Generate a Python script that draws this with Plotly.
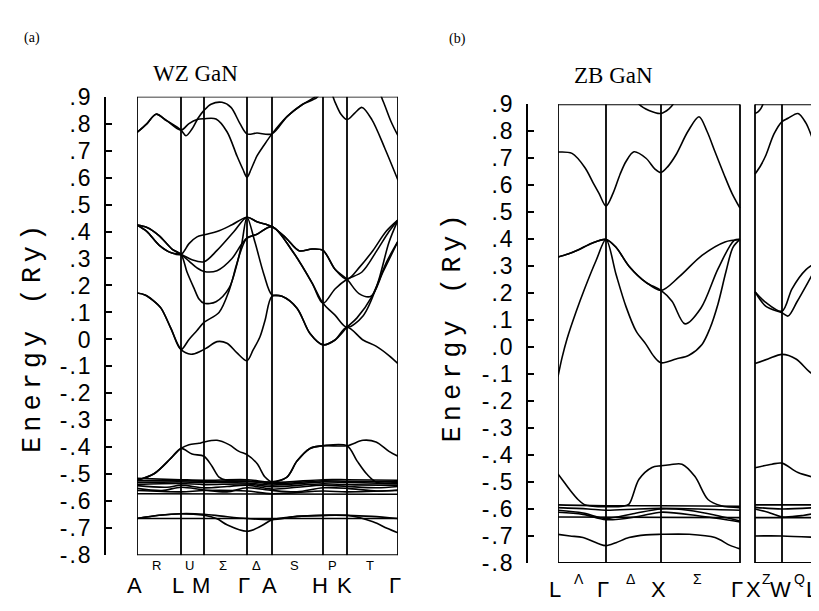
import plotly.graph_objects as go

W, H = 819, 611

# ---------------- Panel (a): wurtzite GaN ----------------
WZ_POINT_LABELS = ["A", "L", "M", "Γ", "A", "H", "K", "Γ"]
WZ_POINT_POS = [0, 44, 67, 110, 135, 186, 210, 261]
WZ_MID_LABELS = ["R", "U", "Σ", "Δ", "S", "P", "T"]

WZ_YTICK_VALS = [0.9, 0.8, 0.7, 0.6, 0.5, 0.4, 0.3, 0.2, 0.1, 0.0,
                 -0.1, -0.2, -0.3, -0.4, -0.5, -0.6, -0.7, -0.8]
WZ_YTICK_TEXT = [".9", ".8", ".7", ".6", ".5", ".4", ".3", ".2", ".1", "0",
                 "-.1", "-.2", "-.3", "-.4", "-.5", "-.6", "-.7", "-.8"]

# bands as (k, E[Ry])
WZ_C1 = [(0, 0.767), (10, 0.80), (19, 0.835), (30, 0.81), (44, 0.776), (49, 0.755),
         (55, 0.78), (61, 0.82), (67, 0.849), (74, 0.872), (85, 0.879), (94, 0.86),
         (103, 0.80), (110, 0.762), (120, 0.765), (135, 0.762), (150, 0.826),
         (165, 0.87), (180, 0.897), (186, 0.93), (192, 0.93), (198, 0.88),
         (204, 0.835), (210, 0.815), (218, 0.84), (225, 0.86), (235, 0.814),
         (248, 0.707), (261, 0.59)]
WZ_C2 = [(0, 0.767), (10, 0.80), (19, 0.835), (30, 0.81), (44, 0.776), (52, 0.80),
         (60, 0.815), (67, 0.818), (79, 0.817), (90, 0.77), (100, 0.68), (106, 0.63),
         (110, 0.601), (114, 0.63), (120, 0.68), (127, 0.72), (135, 0.762),
         (150, 0.826), (165, 0.87), (180, 0.905), (190, 0.96), (210, 1.0),
         (235, 0.97), (246, 0.884), (254, 0.808), (261, 0.755)]

WZ_P1 = [(0, 0.424), (10, 0.40), (22, 0.35), (35, 0.32), (44, 0.315), (52, 0.355),
         (60, 0.38), (67, 0.388), (80, 0.40), (95, 0.425), (110, 0.453), (120, 0.436),
         (135, 0.418), (149, 0.376), (162, 0.329), (175, 0.335), (186, 0.33),
         (198, 0.26), (210, 0.223), (223, 0.27), (236, 0.33), (249, 0.40), (261, 0.443)]
WZ_P2 = [(0, 0.424), (10, 0.40), (22, 0.35), (35, 0.32), (44, 0.315), (55, 0.295),
         (67, 0.288), (80, 0.33), (97, 0.40), (110, 0.453), (120, 0.436), (135, 0.418),
         (149, 0.376), (162, 0.329), (175, 0.335), (186, 0.33), (198, 0.26),
         (210, 0.223), (222, 0.17), (234, 0.16), (246, 0.25), (261, 0.364)]
WZ_P3 = [(0, 0.424), (10, 0.415), (22, 0.385), (35, 0.335), (44, 0.315), (52, 0.29),
         (60, 0.265), (67, 0.252), (80, 0.255), (95, 0.30), (104, 0.35), (110, 0.376),
         (120, 0.39), (135, 0.418), (155, 0.33), (175, 0.21), (186, 0.134),
         (198, 0.187), (210, 0.223), (225, 0.25), (240, 0.33), (252, 0.40), (261, 0.443)]
WZ_P4 = [(0, 0.424), (10, 0.415), (22, 0.385), (35, 0.335), (44, 0.315), (50, 0.25),
         (57, 0.19), (62, 0.15), (67, 0.134), (79, 0.14), (92, 0.19), (100, 0.28),
         (105, 0.36), (110, 0.453), (118, 0.36), (127, 0.24), (135, 0.165),
         (145, 0.16), (160, 0.116), (173, 0.022), (186, -0.02), (198, -0.002),
         (210, 0.045), (226, -0.002), (239, -0.025), (252, -0.06), (261, -0.09)]
WZ_P5 = [(0, 0.172), (8, 0.165), (16, 0.145), (24, 0.116), (34, 0.04), (44, -0.037),
         (52, 0.0), (60, 0.033), (67, 0.063), (82, 0.10), (92, 0.18), (99, 0.27),
         (104, 0.33), (110, 0.376), (120, 0.39), (135, 0.418), (155, 0.33),
         (175, 0.21), (186, 0.134), (198, 0.09), (210, 0.045), (226, 0.087),
         (240, 0.2), (252, 0.36), (261, 0.443)]
WZ_P6 = [(0, 0.172), (8, 0.165), (16, 0.145), (24, 0.116), (34, 0.04), (44, -0.037),
         (54, -0.055), (64, -0.043), (70, -0.031), (80, -0.008), (90, -0.014),
         (100, -0.05), (110, -0.079), (116, -0.04), (123, 0.01), (128, 0.07),
         (135, 0.16), (145, 0.16), (160, 0.116), (173, 0.022), (186, -0.02),
         (198, -0.002), (210, 0.045), (220, 0.08), (235, 0.16), (250, 0.29), (261, 0.364)]

WZ_D1 = [(0, -0.522), (17, -0.498), (34, -0.44), (44, -0.404), (52, -0.39), (62, -0.385),
         (67, -0.38), (80, -0.374), (92, -0.39), (102, -0.415), (110, -0.427),
         (120, -0.46), (128, -0.51), (135, -0.528), (150, -0.51), (160, -0.451),
         (173, -0.404), (186, -0.394), (210, -0.394), (226, -0.374), (239, -0.38),
         (252, -0.415), (261, -0.433)]
WZ_D2 = [(0, -0.522), (17, -0.498), (34, -0.44), (44, -0.404), (55, -0.425),
         (67, -0.433), (75, -0.47), (82, -0.51), (90, -0.522), (110, -0.525),
         (135, -0.528), (150, -0.51), (160, -0.451), (173, -0.404), (186, -0.394),
         (210, -0.394), (220, -0.45), (230, -0.50), (240, -0.53), (261, -0.53)]
WZ_D3 = [(0, -0.515), (44, -0.52), (67, -0.522), (110, -0.52), (135, -0.53),
         (186, -0.52), (210, -0.52), (261, -0.522)]
WZ_D3B = [(0, -0.524), (44, -0.523), (67, -0.526), (110, -0.526), (135, -0.535),
          (186, -0.524), (210, -0.526), (261, -0.528)]
WZ_D4 = [(0, -0.53), (44, -0.528), (67, -0.53), (110, -0.532), (135, -0.54),
         (186, -0.528), (210, -0.53), (261, -0.535)]
WZ_D4B = [(0, -0.537), (44, -0.534), (67, -0.538), (110, -0.536), (135, -0.546),
          (186, -0.535), (210, -0.538), (261, -0.54)]
WZ_D5 = [(0, -0.542), (30, -0.548), (44, -0.54), (67, -0.55), (90, -0.545),
         (110, -0.54), (135, -0.555), (160, -0.548), (186, -0.54), (210, -0.545),
         (240, -0.55), (261, -0.545)]
WZ_D6 = [(0, -0.552), (25, -0.56), (44, -0.548), (67, -0.558), (90, -0.565),
         (110, -0.55), (135, -0.56), (160, -0.565), (186, -0.55), (210, -0.552),
         (240, -0.562), (261, -0.558)]
WZ_D7 = [(0, -0.56), (44, -0.565), (67, -0.56), (110, -0.562), (135, -0.572),
         (186, -0.562), (210, -0.565), (261, -0.56)]
WZ_D8 = [(0, -0.572), (261, -0.574)]

WZ_S1 = [(0, -0.664), (22, -0.652), (44, -0.646), (67, -0.648), (85, -0.655),
         (110, -0.664), (135, -0.668), (160, -0.656), (186, -0.652), (210, -0.652),
         (235, -0.656), (261, -0.664)]
WZ_S2 = [(0, -0.664), (22, -0.652), (44, -0.646), (67, -0.652), (80, -0.665),
         (90, -0.687), (110, -0.711), (125, -0.69), (135, -0.668), (160, -0.656),
         (186, -0.652), (210, -0.652), (236, -0.676), (250, -0.70), (261, -0.717)]
WZ_S3 = [(0, -0.664), (261, -0.664)]

WZ_BANDS = [WZ_C1, WZ_C2, WZ_P1, WZ_P2, WZ_P3, WZ_P4, WZ_P5, WZ_P6,
            WZ_D1, WZ_D2, WZ_D3, WZ_D3B, WZ_D4, WZ_D4B, WZ_D5, WZ_D6, WZ_D7, WZ_D8,
            WZ_S1, WZ_S2, WZ_S3]

# ---------------- Panel (b): zinc-blende GaN ----------------
ZB_BOX1_LABELS = ["L", "Γ", "X", "Γ"]
ZB_BOX1_POS = [0, 48, 103, 182]
ZB_BOX1_MID = ["Λ", "Δ", "Σ"]
ZB_BOX2_LABELS = ["X", "W", "L"]
ZB_BOX2_POS = [197, 224, 262]
ZB_BOX2_MID = ["Z", "Q"]

ZB_YTICK_VALS = WZ_YTICK_VALS
ZB_YTICK_TEXT = [".9", ".8", ".7", ".6", ".5", ".4", ".3", ".2", ".1", ".0",
                 "-.1", "-.2", "-.3", "-.4", "-.5", "-.6", "-.7", "-.8"]

ZB1_C1 = [(0, 0.723), (14, 0.718), (27, 0.665), (35, 0.61), (41, 0.57), (48, 0.523),
          (55, 0.57), (62, 0.64), (68, 0.688), (76, 0.724), (88, 0.70), (97, 0.66),
          (103, 0.647), (110, 0.67), (118, 0.713), (130, 0.80), (141, 0.854),
          (149, 0.80), (157, 0.724), (166, 0.64), (174, 0.57), (182, 0.515)]
ZB1_C2 = [(75, 0.94), (81, 0.90), (91, 0.877), (103, 0.866), (111, 0.883),
          (115, 0.90), (120, 0.94)]
ZB1_V1 = [(0, 0.334), (10, 0.345), (20, 0.36), (34, 0.385), (48, 0.399), (58, 0.37),
          (71, 0.30), (88, 0.24), (103, 0.21), (121, 0.26), (144, 0.34), (167, 0.39),
          (182, 0.399)]
ZB1_V2 = [(0, 0.334), (10, 0.345), (20, 0.36), (34, 0.385), (48, 0.399), (58, 0.37),
          (71, 0.30), (88, 0.24), (103, 0.21), (114, 0.17), (127, 0.086), (143, 0.145),
          (160, 0.29), (176, 0.395), (182, 0.399)]
ZB1_V3 = [(0, -0.109), (4, -0.04), (9, 0.03), (18, 0.13), (27, 0.22), (38, 0.32),
          (48, 0.399), (58, 0.27), (68, 0.15), (78, 0.06), (88, 0.01), (96, -0.035),
          (103, -0.058), (118, -0.044), (131, -0.03), (144, 0.01), (152, 0.07),
          (160, 0.16), (168, 0.28), (175, 0.37), (182, 0.399)]
ZB1_D1 = [(0, -0.47), (6, -0.50), (12, -0.53), (20, -0.565), (26, -0.583), (35, -0.59),
          (48, -0.592), (65, -0.59), (71, -0.582), (81, -0.49), (94, -0.446),
          (103, -0.44), (112, -0.436), (124, -0.434), (137, -0.48), (150, -0.565),
          (163, -0.588), (182, -0.595)]
ZB1_D2 = [(0, -0.585), (48, -0.588), (103, -0.588), (182, -0.59)]
ZB1_D3 = [(0, -0.595), (30, -0.60), (48, -0.605), (80, -0.60), (103, -0.598),
          (140, -0.60), (182, -0.605)]
ZB1_D4 = [(0, -0.605), (25, -0.615), (48, -0.635), (75, -0.618), (103, -0.60),
          (130, -0.605), (160, -0.625), (182, -0.645)]
ZB1_D5 = [(0, -0.63), (182, -0.632)]
ZB1_D6 = [(0, -0.612), (25, -0.62), (48, -0.64), (80, -0.628), (103, -0.612),
          (140, -0.625), (182, -0.648)]
ZB1_S = [(0, -0.694), (12, -0.70), (25, -0.706), (40, -0.728), (48, -0.736),
         (58, -0.725), (71, -0.706), (88, -0.696), (103, -0.694), (131, -0.694),
         (157, -0.706), (172, -0.735), (182, -0.748)]

ZB2_C1 = [(197, 0.641), (203, 0.675), (208, 0.712), (216, 0.79), (224, 0.836),
          (230, 0.848), (240, 0.866), (248, 0.83), (256, 0.76), (262, 0.72)]
ZB2_C2 = [(197, 0.866), (200, 0.872), (203, 0.885), (207, 0.92)]
ZB2_V1 = [(197, 0.205), (208, 0.151), (224, 0.127), (230, 0.115), (239, 0.168),
          (250, 0.24), (262, 0.322)]
ZB2_V2 = [(197, 0.205), (207, 0.168), (224, 0.133), (234, 0.216), (248, 0.287),
          (262, 0.322)]
ZB2_V3 = [(197, -0.061), (210, -0.044), (224, -0.027), (238, -0.044), (251, -0.09),
          (262, -0.121)]
ZB2_D1 = [(197, -0.447), (214, -0.434), (224, -0.43), (240, -0.465), (262, -0.488)]
ZB2_D2 = [(197, -0.594), (224, -0.60), (262, -0.594)]
ZB2_D3 = [(197, -0.60), (210, -0.612), (224, -0.629), (245, -0.624), (262, -0.612)]
ZB2_D4 = [(197, -0.585), (262, -0.585)]
ZB2_D5 = [(197, -0.632), (262, -0.632)]
ZB2_S = [(197, -0.70), (224, -0.70), (262, -0.706)]

ZB_BANDS = [ZB1_C1, ZB1_C2, ZB1_V1, ZB1_V2, ZB1_V3, ZB1_D1, ZB1_D2, ZB1_D3, ZB1_D4,
            ZB1_D5, ZB1_D6, ZB1_S, ZB2_C1, ZB2_C2, ZB2_V1, ZB2_V2, ZB2_V3, ZB2_D1,
            ZB2_D2, ZB2_D3, ZB2_D4, ZB2_D5, ZB2_S]

E_MIN, E_MAX = -0.8, 0.9

# ---------------- layout geometry (pixels) ----------------
A_X0, A_X1, A_Y0, A_Y1, A_SPINE = 129, 390, 79, 558, 97
B_X0, B_X1, B_Y0, B_Y1, B_SPINE = 550, 812, 87, 566, 519

fig = go.Figure()


def add_band(points, xa, ya):
    fig.add_trace(go.Scatter(
        x=[p[0] for p in points], y=[p[1] for p in points], mode="lines",
        line=dict(color="black", width=1.6, shape="spline", smoothing=0.9),
        xaxis=xa, yaxis=ya, hoverinfo="skip", showlegend=False))


for b in WZ_BANDS:
    add_band(b, "x", "y")
for b in ZB_BANDS:
    add_band(b, "x2", "y2")

shapes = []
FRAME = dict(color="black", width=1.8)


def add_box(xref, yref, positions):
    for p in positions:
        shapes.append(dict(type="line", xref=xref, yref=yref, x0=p, x1=p,
                           y0=E_MIN, y1=E_MAX, line=FRAME))
    for e in (E_MIN, E_MAX):
        shapes.append(dict(type="line", xref=xref, yref=yref, x0=positions[0],
                           x1=positions[-1], y0=e, y1=e, line=FRAME))


add_box("x", "y", WZ_POINT_POS)
add_box("x2", "y2", ZB_BOX1_POS)
add_box("x2", "y2", ZB_BOX2_POS)

ann = []
LBL_FONT = dict(family="Liberation Sans, Arial", size=22, color="black")
SML_FONT_A = dict(family="Liberation Sans, Arial", size=13, color="black")
SML_FONT_B = dict(family="Liberation Sans, Arial", size=14, color="black")


def px_y(y):
    return (H - y) / H


def k_to_px_a(k):
    return A_X0 + (k - WZ_POINT_POS[0]) * (A_X1 - A_X0) / (WZ_POINT_POS[-1] - WZ_POINT_POS[0])


def k_to_px_b(k):
    return B_X0 + (k - ZB_BOX1_POS[0]) * (B_X1 - B_X0) / (ZB_BOX2_POS[-1] - ZB_BOX1_POS[0])


def label(xpx, ypx, text, font):
    ann.append(dict(xref="paper", yref="paper", x=xpx / W, y=px_y(ypx), text=text,
                    showarrow=False, font=font, xanchor="center", yanchor="middle",
                    borderpad=0))


def add_labels(conv, pos, labels, mids, y_main, y_mid, shift_main, shift_mid,
               small_font, last_shift=0):
    for i, (p, t) in enumerate(zip(pos, labels)):
        s = shift_main + (last_shift if i == len(pos) - 1 else 0)
        label(conv(p) + s, y_main, t, LBL_FONT)
    for i, t in enumerate(mids):
        m = (pos[i] + pos[i + 1]) / 2
        label(conv(m) + shift_mid, y_mid, t, small_font)


add_labels(k_to_px_a, WZ_POINT_POS, WZ_POINT_LABELS, WZ_MID_LABELS, 590, 569, -3, -3,
           SML_FONT_A)
add_labels(k_to_px_b, ZB_BOX1_POS, ZB_BOX1_LABELS, ZB_BOX1_MID, 594, 583, -3, -3,
           SML_FONT_B)
add_labels(k_to_px_b, ZB_BOX2_POS, ZB_BOX2_LABELS, ZB_BOX2_MID, 594, 583, -2, -2,
           SML_FONT_B, -6)

TITLE_FONT = dict(family="Liberation Serif, Times New Roman", size=23, color="black")
label(187, 55, "WZ GaN", TITLE_FONT)
label(605, 57, "ZB GaN", TITLE_FONT)
PANEL_FONT = dict(family="Liberation Serif, Times New Roman", size=14, color="black")
label(24, 18, "(a)", PANEL_FONT)
label(449, 19, "(b)", PANEL_FONT)

YT_FONT = dict(family="Liberation Mono, DejaVu Sans Mono, monospace", size=27, color="black")
ytitle = '<span style="letter-spacing:5px">Energy (Ry)</span>'
for xpx, ypx in ((25, 330), (445, 318)):
    ann.append(dict(xref="paper", yref="paper", x=xpx / W, y=px_y(ypx), text=ytitle,
                    textangle=-90, showarrow=False, font=YT_FONT,
                    xanchor="center", yanchor="middle"))

TICK_FONT = dict(family="Liberation Sans, Arial", size=23, color="black")


def spaced(t):
    return '<span style="letter-spacing:2px">' + t + '</span>'


common_x = dict(showgrid=False, zeroline=False, showticklabels=False, showline=False,
                ticks="", fixedrange=True)
common_y = dict(showgrid=False, zeroline=False, showline=True, linecolor="black",
                linewidth=1.6, ticks="inside", ticklen=6, tickwidth=1.5, tickcolor="black",
                tickfont=TICK_FONT, range=[E_MIN, E_MAX], anchor="free", side="left",
                ticklabelstandoff=7)

fig.update_layout(
    width=W, height=H, margin=dict(l=0, r=0, t=0, b=0),
    paper_bgcolor="white", plot_bgcolor="white", showlegend=False,
    xaxis=dict(domain=[A_X0 / W, A_X1 / W], range=[WZ_POINT_POS[0], WZ_POINT_POS[-1]],
               anchor="y", **common_x),
    yaxis=dict(domain=[px_y(A_Y1), px_y(A_Y0)], position=A_SPINE / W,
               tickvals=WZ_YTICK_VALS, ticktext=[spaced(t) for t in WZ_YTICK_TEXT],
               **common_y),
    xaxis2=dict(domain=[B_X0 / W, B_X1 / W], range=[ZB_BOX1_POS[0], ZB_BOX2_POS[-1]],
                anchor="y2", **common_x),
    yaxis2=dict(domain=[px_y(B_Y1), px_y(B_Y0)], position=B_SPINE / W,
                tickvals=ZB_YTICK_VALS, ticktext=[spaced(t) for t in ZB_YTICK_TEXT],
                **common_y),
    shapes=shapes, annotations=ann,
)

fig.write_html("out.html")
